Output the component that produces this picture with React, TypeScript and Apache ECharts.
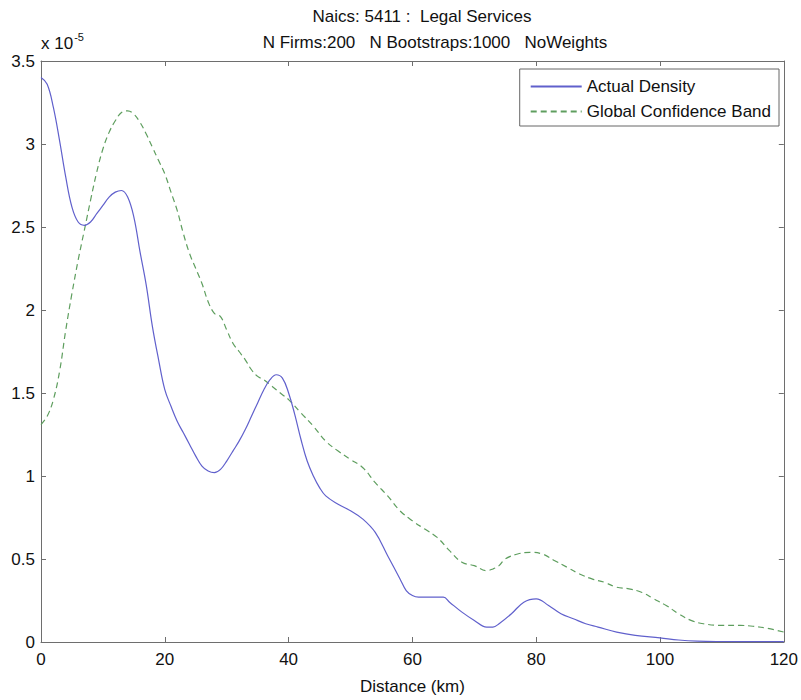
import React, { useEffect, useRef } from "react";
import * as echarts from "echarts";

const titleLine1 = "Naics: 5411 :  Legal Services";
const titleLine2 = "N Firms:200   N Bootstraps:1000   NoWeights";
const xTicks = [0, 20, 40, 60, 80, 100, 120];
const yTicks = [0, 0.5, 1, 1.5, 2, 2.5, 3, 3.5];

// Actual Density (units of 1e-5)
const actualX = [0,1,2,3,4,5,6,7,8,9,10,11,12,13,14,15,16,17,18,19,20,21,22,23,24,25,26,27,28,29,30,31,32,33,34,35,36,37,38,39,40,41,42,43,44,45,46,48,50,52,54,56,58,59,60,61,63,65,66,68,70,72,73,74,76,78,80,82,84,86,88,90,93,96,100,103,106,110,120];
const actualY = [3.40,3.36,3.22,3.02,2.80,2.62,2.53,2.51,2.53,2.58,2.63,2.68,2.71,2.72,2.68,2.56,2.35,2.15,1.90,1.70,1.52,1.42,1.33,1.26,1.19,1.12,1.06,1.03,1.02,1.04,1.09,1.15,1.21,1.28,1.36,1.44,1.52,1.58,1.61,1.59,1.50,1.37,1.22,1.09,1.00,0.93,0.88,0.83,0.79,0.74,0.66,0.52,0.38,0.31,0.28,0.27,0.27,0.27,0.24,0.18,0.13,0.09,0.09,0.11,0.17,0.24,0.26,0.22,0.17,0.14,0.11,0.09,0.06,0.04,0.025,0.012,0.005,0.003,0.002];

// Global Confidence Band (units of 1e-5)
const bandX = [0,1,2,3,4,5,6,7,8,9,10,11,12,13,14,15,16,17,18,19,20,21,22,23,24,25,26,27,28,29,30,31,32,33,34,35,36,37,38,39,40,42,44,46,48,50,52,54,56,58,60,62,64,66,68,70,72,73,74,75,77,79,81,83,85,87,89,91,93,95,97,99,101,103,105,107,110,113,115,117,120];
const bandY = [1.31,1.36,1.46,1.63,1.88,2.10,2.30,2.48,2.66,2.83,2.97,3.07,3.14,3.19,3.20,3.18,3.13,3.06,2.98,2.90,2.82,2.71,2.60,2.46,2.34,2.25,2.16,2.05,1.98,1.96,1.88,1.80,1.75,1.70,1.64,1.60,1.58,1.55,1.52,1.49,1.46,1.38,1.30,1.21,1.15,1.10,1.05,0.96,0.88,0.79,0.73,0.68,0.63,0.55,0.48,0.46,0.43,0.44,0.46,0.50,0.53,0.54,0.53,0.49,0.45,0.41,0.38,0.36,0.33,0.32,0.30,0.26,0.22,0.17,0.13,0.11,0.10,0.10,0.095,0.085,0.06];

const FONT = "Liberation Sans, Arial, sans-serif";
const AXIS = "#6e6e6e";
const FS = 17;

export default function App() {
  const ref = useRef<HTMLDivElement>(null);
  useEffect(() => {
    if (!ref.current) return;
    const chart = echarts.init(ref.current, null, { renderer: "svg" });
    const axisCommon = {
      type: "value",
      axisLine: { show: true, onZero: false, lineStyle: { color: AXIS, width: 1 } },
      axisTick: { show: true, inside: true, length: 5, lineStyle: { color: AXIS } },
      splitLine: { show: false },
    };
    chart.setOption({
      animation: false,
      backgroundColor: "#fff",
      textStyle: { fontFamily: FONT },
      title: [
        { text: titleLine1, left: 417, top: 3, textAlign: "center", textStyle: { fontSize: FS, fontWeight: "normal", color: "#111", fontFamily: FONT } },
        { text: titleLine2, left: 430, top: 29, textAlign: "center", textStyle: { fontSize: FS, fontWeight: "normal", color: "#111", fontFamily: FONT } },
      ],
      grid: { left: 41, right: 15, top: 61, bottom: 58, containLabel: false },
      legend: {
        orient: "vertical",
        right: 22,
        top: 69,
        itemWidth: 51,
        itemHeight: 14,
        itemGap: 8,
        padding: [9, 8, 6, 10],
        borderColor: "#666",
        borderWidth: 1,
        backgroundColor: "#fff",
        itemStyle: { opacity: 0 },
        textStyle: { fontSize: FS, color: "#111", fontFamily: FONT },
        data: ["Actual Density", "Global Confidence Band"],
      },
      xAxis: [
        {
          ...axisCommon,
          min: 0, max: 120, interval: 20,
          name: "Distance (km)",
          nameLocation: "middle",
          nameGap: 36,
          nameTextStyle: { fontSize: FS, color: "#111", fontFamily: FONT },
          axisLabel: { fontSize: FS, color: "#111", margin: 9, formatter: (v: number) => (xTicks.includes(v) ? String(v) : "") },
        },
        { ...axisCommon, position: "top", min: 0, max: 120, interval: 20, axisLabel: { show: false } },
      ],
      yAxis: [
        {
          ...axisCommon,
          min: 0, max: 3.5, interval: 0.5,
          name: "{a|x 10}{b|-5}",
          nameLocation: "end",
          nameGap: 5,
          nameTextStyle: {
            align: "left",
            rich: {
              a: { fontSize: FS, color: "#111", fontFamily: FONT },
              b: { fontSize: 11, color: "#111", fontFamily: FONT, verticalAlign: "top", padding: [0, 0, 14, 1] },
            },
          },
          axisLabel: { fontSize: FS, color: "#111", margin: 6, formatter: (v: number) => (yTicks.includes(v) ? String(v) : "") },
        },
        { ...axisCommon, position: "right", min: 0, max: 3.5, interval: 0.5, axisLabel: { show: false } },
      ],
      series: [
        {
          name: "Actual Density",
          type: "line",
          data: actualX.map((x, i) => [x, actualY[i]]),
          smooth: 0.4,
          showSymbol: false,
          symbol: "none",
          lineStyle: { color: "#6060cc", width: 1.2 },
          itemStyle: { color: "#6060cc" },
          z: 3,
        },
        {
          name: "Global Confidence Band",
          type: "line",
          data: bandX.map((x, i) => [x, bandY[i]]),
          smooth: 0.4,
          showSymbol: false,
          symbol: "none",
          lineStyle: { color: "#5e9e5e", width: 1.2, type: [6, 4] },
          itemStyle: { color: "#5e9e5e" },
          z: 2,
        },
      ],
    });
    return () => chart.dispose();
  }, []);
  return <div ref={ref} style={{ width: 801, height: 700, position: "absolute", left: 0, top: 0 }} />;
}
